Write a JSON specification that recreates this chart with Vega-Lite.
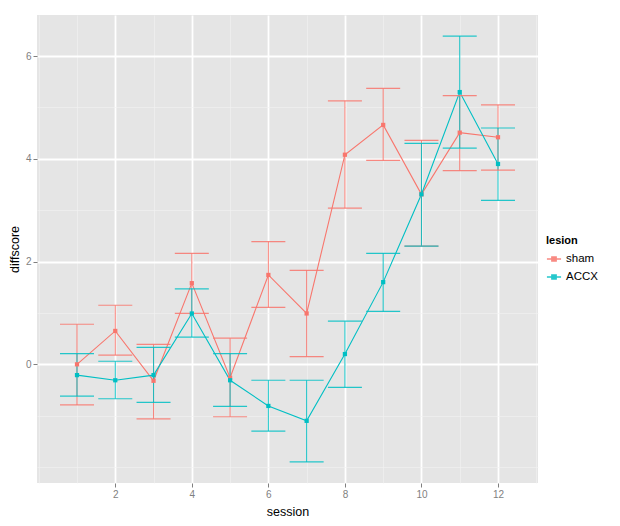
{
  "$schema": "https://vega.github.io/schema/vega-lite/v6.json",
  "width": 501,
  "height": 468,
  "autosize": {"type": "none"},
  "padding": {"left": 37, "top": 15, "right": 82, "bottom": 43},
  "background": "white",
  "config": {
    "view": {"fill": "#E5E5E5", "stroke": null},
    "font": "Liberation Sans",
    "axis": {
      "domain": false,
      "tickColor": "#7F7F7F",
      "tickSize": 4,
      "labelColor": "#7F7F7F",
      "labelFontSize": 10,
      "labelFont": "Liberation Sans",
      "titleFont": "Liberation Sans",
      "titleFontSize": 12.5,
      "titleFontWeight": "normal",
      "titleColor": "black",
      "gridColor": "white",
      "gridOpacity": 1
    },
    "legend": {"labelFont": "Liberation Sans", "titleFont": "Liberation Sans"}
  },
  "data": {"values": [
    {"session": 1, "lesion": "sham", "diffscore": 0.0, "lo": -0.79, "hi": 0.78},
    {"session": 2, "lesion": "sham", "diffscore": 0.65, "lo": 0.18, "hi": 1.15},
    {"session": 3, "lesion": "sham", "diffscore": -0.32, "lo": -1.06, "hi": 0.39},
    {"session": 4, "lesion": "sham", "diffscore": 1.58, "lo": 0.99, "hi": 2.16},
    {"session": 5, "lesion": "sham", "diffscore": -0.26, "lo": -1.02, "hi": 0.51},
    {"session": 6, "lesion": "sham", "diffscore": 1.74, "lo": 1.11, "hi": 2.39},
    {"session": 7, "lesion": "sham", "diffscore": 0.99, "lo": 0.15, "hi": 1.83},
    {"session": 8, "lesion": "sham", "diffscore": 4.08, "lo": 3.04, "hi": 5.13},
    {"session": 9, "lesion": "sham", "diffscore": 4.66, "lo": 3.97, "hi": 5.37},
    {"session": 10, "lesion": "sham", "diffscore": 3.31, "lo": 2.30, "hi": 4.36},
    {"session": 11, "lesion": "sham", "diffscore": 4.51, "lo": 3.77, "hi": 5.23},
    {"session": 12, "lesion": "sham", "diffscore": 4.42, "lo": 3.78, "hi": 5.05},
    {"session": 1, "lesion": "ACCX", "diffscore": -0.21, "lo": -0.62, "hi": 0.21},
    {"session": 2, "lesion": "ACCX", "diffscore": -0.31, "lo": -0.67, "hi": 0.06},
    {"session": 3, "lesion": "ACCX", "diffscore": -0.21, "lo": -0.74, "hi": 0.33},
    {"session": 4, "lesion": "ACCX", "diffscore": 0.99, "lo": 0.53, "hi": 1.47},
    {"session": 5, "lesion": "ACCX", "diffscore": -0.31, "lo": -0.82, "hi": 0.21},
    {"session": 6, "lesion": "ACCX", "diffscore": -0.81, "lo": -1.30, "hi": -0.31},
    {"session": 7, "lesion": "ACCX", "diffscore": -1.10, "lo": -1.90, "hi": -0.31},
    {"session": 8, "lesion": "ACCX", "diffscore": 0.20, "lo": -0.45, "hi": 0.84},
    {"session": 9, "lesion": "ACCX", "diffscore": 1.60, "lo": 1.03, "hi": 2.16},
    {"session": 10, "lesion": "ACCX", "diffscore": 3.31, "lo": 2.30, "hi": 4.30},
    {"session": 11, "lesion": "ACCX", "diffscore": 5.30, "lo": 4.21, "hi": 6.39},
    {"session": 12, "lesion": "ACCX", "diffscore": 3.90, "lo": 3.19, "hi": 4.60}
  ]},
  "resolve": {"axis": {"x": "independent", "y": "independent"}},
  "layer": [
    {
      "mark": {"type": "point", "opacity": 0},
      "encoding": {
        "x": {"field": "session", "type": "quantitative", "scale": {"domain": [-0.045, 13.045], "nice": false, "zero": false},
              "axis": {"orient": "bottom", "grid": true, "values": [0, 1, 3, 5, 7, 9, 11, 13], "labels": false, "ticks": false, "title": null, "gridWidth": 0.6, "gridColor": "#F2F2F2"}},
        "y": {"field": "diffscore", "type": "quantitative", "scale": {"domain": [-2.31, 6.8], "nice": false, "zero": false},
              "axis": {"orient": "left", "grid": true, "values": [-2, -1, 1, 3, 5], "labels": false, "ticks": false, "title": null, "gridWidth": 0.6, "gridColor": "#F2F2F2"}}
      }
    },
    {
      "mark": {"type": "line", "strokeWidth": 1.1},
      "encoding": {
        "x": {"field": "session", "type": "quantitative",
              "axis": {"orient": "bottom", "grid": true, "values": [2, 4, 6, 8, 10, 12], "title": "session", "gridWidth": 1.8, "gridColor": "#FFFFFF", "titlePadding": 6}},
        "y": {"field": "diffscore", "type": "quantitative",
              "axis": {"orient": "left", "grid": true, "values": [0, 2, 4, 6], "title": "diffscore", "gridWidth": 1.8, "gridColor": "#FFFFFF", "titlePadding": 4}},
        "color": {"field": "lesion", "type": "nominal",
                  "scale": {"domain": ["sham", "ACCX"], "range": ["#F8766D", "#00BFC4"]},
                  "legend": {"orient": "none", "legendX": 509, "legendY": 220, "title": "lesion", "titleFontSize": 11, "titleFontWeight": "bold", "labelFontSize": 11.5, "symbolType": "M-1,0H1M-0.3,-0.3H0.3V0.3H-0.3Z", "symbolSize": 200, "symbolStrokeWidth": 1.5, "rowPadding": 4}}
      }
    },
    {
      "mark": {"type": "rule", "strokeWidth": 1.1, "opacity": 0.85},
      "encoding": {
        "x": {"field": "session", "type": "quantitative", "axis": null},
        "y": {"field": "lo", "type": "quantitative", "axis": null},
        "y2": {"field": "hi"},
        "color": {"field": "lesion", "type": "nominal"}
      }
    },
    {
      "mark": {"type": "tick", "orient": "horizontal", "size": 34, "thickness": 1.2, "opacity": 0.85},
      "encoding": {
        "x": {"field": "session", "type": "quantitative", "axis": null},
        "y": {"field": "lo", "type": "quantitative", "axis": null},
        "color": {"field": "lesion", "type": "nominal"}
      }
    },
    {
      "mark": {"type": "tick", "orient": "horizontal", "size": 34, "thickness": 1.2, "opacity": 0.85},
      "encoding": {
        "x": {"field": "session", "type": "quantitative", "axis": null},
        "y": {"field": "hi", "type": "quantitative", "axis": null},
        "color": {"field": "lesion", "type": "nominal"}
      }
    },
    {
      "mark": {"type": "square", "filled": true, "opacity": 1, "size": 18},
      "encoding": {
        "x": {"field": "session", "type": "quantitative", "axis": null},
        "y": {"field": "diffscore", "type": "quantitative", "axis": null},
        "color": {"field": "lesion", "type": "nominal"}
      }
    }
  ]
}
